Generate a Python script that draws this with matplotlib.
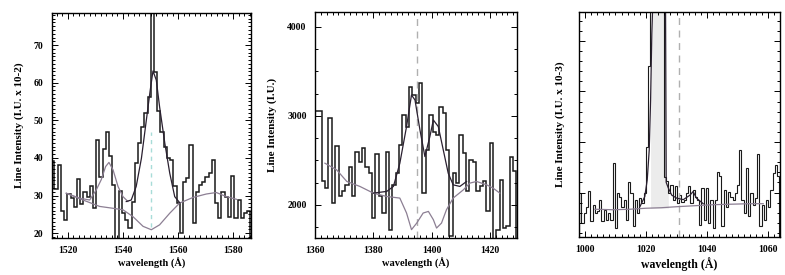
import numpy as np
import matplotlib
matplotlib.use("Agg")
import matplotlib.pyplot as plt
from matplotlib.ticker import MultipleLocator, NullFormatter

plt.rcParams['font.family'] = ['Liberation Serif', 'DejaVu Serif']
plt.rcParams['font.weight'] = 'bold'

# ---------------- Panel 1 (C IV region) ----------------
p1_start = 1513.94
p1_binw = 1.167
p1_counts = [39.2, 31.7, 38.0, 26.0, 23.5, 30.4, 29.3, 27.0, 34.4, 27.8,
             31.0, 29.7, 32.4, 26.6, 44.8, 35.0, 42.3, 47.0, 40.4, 32.8,
             17.0, 31.2, 25.3, 23.5, 21.3, 28.4, 38.6, 43.9, 48.3, 51.9,
             56.3, 85.0, 62.9, 52.5, 47.0, 43.0, 40.0, 39.5, 32.4, 28.0,
             20.0, 33.7, 34.6, 43.5, 22.8, 31.0, 32.8, 33.7, 35.0, 36.0,
             39.5, 28.0, 24.0, 30.8, 29.7, 24.4, 35.2, 24.0, 28.8, 24.0,
             25.3, 25.8]
p1_cont_wl = [1519.4, 1525.5, 1531.5, 1536.4, 1540.0, 1543.6, 1547.3, 1550.3,
              1553.3, 1557.0, 1560.6, 1565.5, 1570.3, 1573.9, 1577.6, 1581.2]
p1_cont = [30.6, 28.8, 27.1, 26.6, 26.2, 24.4, 21.8, 20.9,
           22.2, 25.3, 28.0, 29.5, 30.4, 30.8, 29.7, 29.0]
p1_bump_wl = [1519.4, 1524.2, 1527.9, 1530.3, 1532.1, 1533.7, 1534.9, 1536.4,
              1538.2, 1540.0, 1541.8]
p1_bump = [30.6, 29.3, 28.8, 31.5, 34.2, 37.7, 38.8, 36.8, 32.4, 29.7, 28.4]
p1_fit_wl = [1541.2, 1543.0, 1544.8, 1546.7, 1548.5, 1549.9, 1550.9, 1552.1,
             1553.3, 1555.2, 1557.0, 1558.8, 1560.6]
p1_fit = [28.4, 28.8, 32.4, 39.9, 50.1, 58.0, 63.1, 60.7,
          53.6, 43.9, 35.9, 29.7, 28.1]
p1_line = 1550.3

# ---------------- Panel 2 (Si IV region) ----------------
p2_start = 1360.0
p2_binw = 1.152
p2_counts = [3050, 3050, 2262, 2187, 2972, 2019, 2665, 2093, 2150, 2224,
             2430, 2093, 2598, 2486, 2643, 2430, 2355, 1850, 2572, 2093,
             1907, 2598, 1720, 2224, 2355, 2673, 3009, 2879, 3327, 3234,
             3140, 3364, 2131, 2617, 3009, 2822, 2785, 3103, 3028, 2617,
             1645, 2355, 2243, 2785, 2579, 2150, 2505, 2486, 2150, 2206,
             2262, 1925, 2692, 1600, 1720, 2280, 1738, 1757, 2542, 2374]
p2_cont_wl = [1363.4, 1367.4, 1370.9, 1375.4, 1380.0, 1384.6, 1389.1, 1391.4,
              1393.1, 1394.9, 1397.1, 1398.9, 1400.6, 1401.7, 1403.4, 1405.1,
              1407.4, 1410.9, 1413.1, 1415.4, 1418.9, 1421.1, 1423.4]
p2_cont = [2467, 2393, 2262, 2206, 2131, 2093, 2075, 1907,
           1720, 1794, 1907, 1925, 1832, 1738, 1794, 1944,
           2075, 2168, 2243, 2262, 2224, 2187, 2131]
p2_fit_wl = [1380.0, 1384.6, 1386.9, 1389.1, 1391.4, 1393.1, 1394.3, 1396.0,
             1397.7, 1399.4, 1400.6, 1402.3, 1404.0, 1405.7, 1407.4, 1409.7,
             1412.0]
p2_fit = [2131, 2150, 2206, 2467, 2879, 3234, 3178, 2841,
          2542, 2766, 2953, 2879, 2617, 2355, 2224, 2206, 2262]
p2_line = 1394.9

# ---------------- Panel 3 (O VI / Ly-beta region) ----------------
p3_start = 998.15
p3_binw = 0.727
p3_counts = [1.00, 0.39, 0.59, 0.72, 1.04, 0.43, 0.76, 0.59, 0.64, 0.86,
             0.43, 0.66, 0.46, 0.59, 0.46, 1.59, 0.30, 1.00, 0.92, 0.72,
             0.86, 0.46, 1.20, 0.99, 0.33, 0.86, 0.59, 0.89, 0.79,
             1.00, 1.90, 3.50, 6.0, 6.0, 6.0, 6.0, 6.0, 6.0, 1.30,
             1.22, 0.99, 1.15, 0.86, 1.12, 0.79, 0.95, 0.82, 0.86, 0.99,
             1.12, 0.79, 1.05, 0.92, 0.86, 0.36, 1.09, 0.46, 1.09, 0.39,
             0.86, 0.30, 0.86, 1.41, 1.32, 0.33, 1.05, 0.72, 1.02, 0.92,
             0.86, 0.99, 1.15, 1.84, 0.86, 0.59, 1.48, 0.53, 0.99, 0.76,
             0.89, 1.76, 0.33, 0.76, 0.46, 0.86, 0.72, 1.05, 1.38, 1.55,
             1.32]
p3_cont_wl = [1003.3, 1009.3, 1014.7, 1020.0, 1025.0, 1030.0, 1036.0, 1042.0,
              1048.0, 1054.0, 1058.3]
p3_cont = [0.67, 0.66, 0.67, 0.69, 0.70, 0.72, 0.74, 0.76, 0.77, 0.78, 0.78]
p3_fit_wl = [1018.0, 1019.6, 1020.4, 1021.05, 1021.5, 1021.9, 1022.14,
             1026.39, 1026.6, 1027.3, 1028.4, 1030.0, 1032.2, 1034.4,
             1035.4, 1036.5, 1038.7]
p3_fit = [0.72, 0.92, 1.25, 1.84, 2.83, 4.14, 4.60,
          4.60, 1.20, 1.09, 0.95, 0.89, 0.86, 0.95,
          1.02, 0.89, 0.78]
p3_line = 1030.75

hist_color = '#1a1a1a'
cont_color = '#8c7f93'
fit_color = '#2a2030'

fig = plt.figure(figsize=(7.85, 2.75), dpi=100)
ax1 = fig.add_axes([0.0662, 0.1345, 0.2535, 0.818])
ax2 = fig.add_axes([0.4013, 0.1345, 0.2573, 0.822])
ax3 = fig.add_axes([0.7376, 0.138, 0.2560, 0.818])


def draw_hist(ax, start, width, counts, lw=1.1):
    edges = start + width * np.arange(len(counts) + 1)
    ax.stairs(counts, edges, color=hist_color, lw=lw)


def style(ax, xmaj, xmin, ymaj, ymin):
    ax.xaxis.set_major_locator(MultipleLocator(xmaj))
    ax.xaxis.set_minor_locator(MultipleLocator(xmin))
    ax.yaxis.set_major_locator(MultipleLocator(ymaj))
    ax.yaxis.set_minor_locator(MultipleLocator(ymin))
    ax.tick_params(which='both', direction='in', top=True, right=True,
                   labelsize=7, width=0.7)
    ax.tick_params(which='major', length=4, pad=6)
    ax.tick_params(which='minor', length=2)
    for s in ax.spines.values():
        s.set_linewidth(1.0)
    ax.set_xlabel('wavelength (Å)', fontsize=7.5, fontweight='bold', labelpad=2)


# Panel 1
draw_hist(ax1, p1_start, p1_binw, p1_counts)
ax1.plot(p1_cont_wl, p1_cont, color=cont_color, lw=0.9)
ax1.plot(p1_bump_wl, p1_bump, color=cont_color, lw=0.9)
ax1.plot(p1_fit_wl, p1_fit, color=fit_color, lw=0.9)
ax1.plot([p1_line, p1_line], [21.5, 47], color='#a8dcd8', lw=1.0, ls=(0, (3, 3)))
ax1.set_xlim(1514.2, 1586.5)
ax1.set_ylim(18.7, 78.5)
style(ax1, 20, 2, 10, 1)
ax1.set_ylabel('Line Intensity (I.U. x 10-2)', fontsize=8, fontweight='bold', labelpad=7)

# Panel 2
draw_hist(ax2, p2_start, p2_binw, p2_counts)
ax2.axvline(p2_line, color='#b0b0b0', lw=1.0, ls=(0, (5, 4)))
ax2.plot(p2_cont_wl, p2_cont, color=cont_color, lw=0.9)
ax2.plot(p2_fit_wl, p2_fit, color=fit_color, lw=0.9)
ax2.set_xlim(1360, 1429.3)
ax2.set_ylim(1626, 4168)
style(ax2, 20, 2, 1000, 250)
ax2.set_ylabel('Line Intensity (I.U.)', fontsize=8, fontweight='bold', labelpad=7)

# Panel 3
ax3.fill_between(p3_fit_wl[4:10], p3_cont[3:4] * 6, p3_fit[4:10], color='#ececec', lw=0)
draw_hist(ax3, p3_start, p3_binw, p3_counts, lw=0.8)
ax3.axvline(p3_line, color='#b0b0b0', lw=1.0, ls=(0, (5, 4)))
ax3.plot(p3_cont_wl, p3_cont, color=cont_color, lw=0.9)
ax3.plot(p3_fit_wl, p3_fit, color=fit_color, lw=0.9)
ax3.set_xlim(998.1, 1063.8)
ax3.set_ylim(0.12, 4.57)
style(ax3, 20, 2, 1, 0.2)
ax3.yaxis.set_major_formatter(NullFormatter())
ax3.set_xlabel('wavelength (Å)', fontsize=8.5, fontweight='bold', labelpad=2)
ax3.set_ylabel('Line Intensity (I.U. x 10-3)', fontsize=8, fontweight='bold', labelpad=4)

fig.savefig('out.png', dpi=100)
